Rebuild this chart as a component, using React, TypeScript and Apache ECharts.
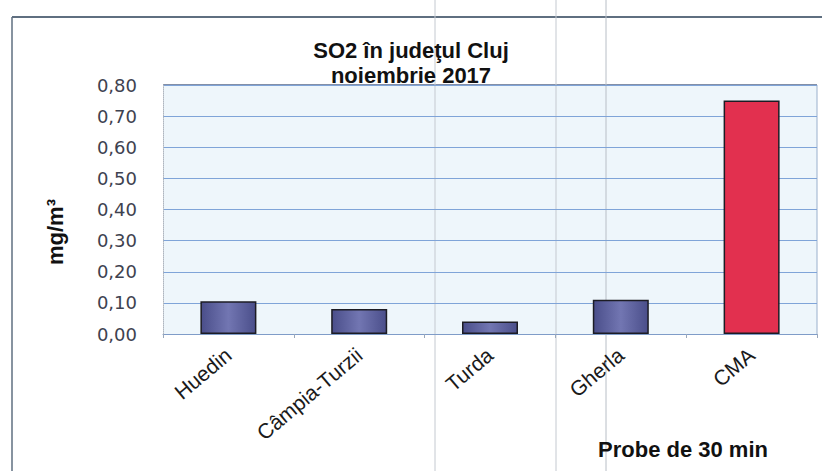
import React, { useEffect, useRef } from "react";
import * as echarts from "echarts";

const categories = ["Huedin", "Câmpia-Turzii", "Turda", "Gherla", "CMA"];
const values = [0.105, 0.08, 0.04, 0.11, 0.75];
const barColors = ["#5b5f9e", "#5b5f9e", "#5b5f9e", "#5b5f9e", "#e2304f"];
const titleLines = ["SO2 în judeţul Cluj", "noiembrie 2017"];
const yAxisName = "mg/m³";
const xAxisName = "Probe de 30 min";

export default function App() {
  const ref = useRef<HTMLDivElement>(null);
  useEffect(() => {
    if (!ref.current) return;
    const chart = echarts.init(ref.current, null, { renderer: "svg" });
    const blue = {
      type: "linear", x: 0, y: 0, x2: 1, y2: 0,
      colorStops: [
        { offset: 0, color: "#4a4e8a" },
        { offset: 0.5, color: "#7276b2" },
        { offset: 1, color: "#4a4e8a" },
      ],
    };
    chart.setOption({
      animation: false,
      backgroundColor: "#ffffff",
      title: {
        text: titleLines.join("\n"),
        left: 406,
        top: 33,
        textAlign: "center",
        textStyle: {
          fontFamily: "Liberation Sans, Arial, sans-serif",
          fontWeight: "bold",
          fontSize: 22,
          lineHeight: 25,
          color: "#111111",
        },
      },
      grid: {
        left: 163,
        right: 5,
        top: 85,
        bottom: 137,
        show: true,
        backgroundColor: "#eef6fb",
        borderWidth: 0,
      },
      xAxis: {
        type: "category",
        data: categories,
        axisLine: { show: true, lineStyle: { color: "#7f9cc8", width: 1 } },
        axisTick: { show: true, length: 4, lineStyle: { color: "#9aa8bb" } },
        axisLabel: {
          rotate: 40,
          margin: 18,
          fontFamily: "Liberation Sans, Arial, sans-serif",
          fontSize: 21,
          color: "#1a1a1a",
        },
      },
      yAxis: {
        type: "value",
        min: 0,
        max: 0.8,
        interval: 0.1,
        axisLine: { show: true, lineStyle: { color: "#b0b6bf", type: "dotted" } },
        axisTick: { show: false },
        axisLabel: {
          margin: 26,
          fontFamily: "DejaVu Sans, sans-serif",
          fontSize: 18,
          color: "#3e4250",
          formatter: (v: number) => v.toFixed(2).replace(".", ","),
        },
        splitLine: { show: true, lineStyle: { color: "#7fa4d8", width: 1.2 } },
      },
      series: [
        {
          type: "bar",
          barWidth: 56,
          data: values.map((v, i) => ({
            value: v,
            itemStyle: {
              color: i === 4 ? barColors[i] : blue,
              borderColor: "#1c1c24",
              borderWidth: 1.5,
            },
          })),
        },
      ],
      graphic: [
        { type: "line", shape: { x1: 12, y1: 17, x2: 822, y2: 17 }, style: { stroke: "#5f6f80", lineWidth: 2 } },
        { type: "line", shape: { x1: 12, y1: 17, x2: 12, y2: 471 }, style: { stroke: "#5f6f80", lineWidth: 1.5 } },
        { type: "line", shape: { x1: 163, y1: 85, x2: 817, y2: 85 }, style: { stroke: "#5a6a8a", lineWidth: 1.5 } },
        { type: "line", shape: { x1: 817, y1: 85, x2: 817, y2: 334 }, style: { stroke: "#9ab0cc", lineWidth: 1 } },
        { type: "line", shape: { x1: 435, y1: 0, x2: 435, y2: 471 }, style: { stroke: "#c4c9d0", lineWidth: 1 } },
        { type: "line", shape: { x1: 556, y1: 0, x2: 556, y2: 471 }, style: { stroke: "#c4c9d0", lineWidth: 1 } },
        { type: "line", shape: { x1: 606, y1: 0, x2: 606, y2: 471 }, style: { stroke: "#b8bec6", lineWidth: 1 } },
        {
          type: "text",
          x: 55,
          y: 232,
          rotation: Math.PI / 2,
          style: {
            text: yAxisName,
            fontFamily: "Liberation Sans, Arial, sans-serif",
            fontWeight: "bold",
            fontSize: 22,
            fill: "#111111",
            align: "center",
            verticalAlign: "middle",
          },
        },
        {
          type: "text",
          x: 683,
          y: 449,
          style: {
            text: xAxisName,
            fontFamily: "Liberation Sans, Arial, sans-serif",
            fontWeight: "bold",
            fontSize: 22,
            fill: "#111111",
            align: "center",
            verticalAlign: "middle",
          },
        },
      ],
    });
    return () => chart.dispose();
  }, []);
  return <div ref={ref} style={{ width: 822, height: 471, position: "absolute", left: 0, top: 0 }} />;
}
